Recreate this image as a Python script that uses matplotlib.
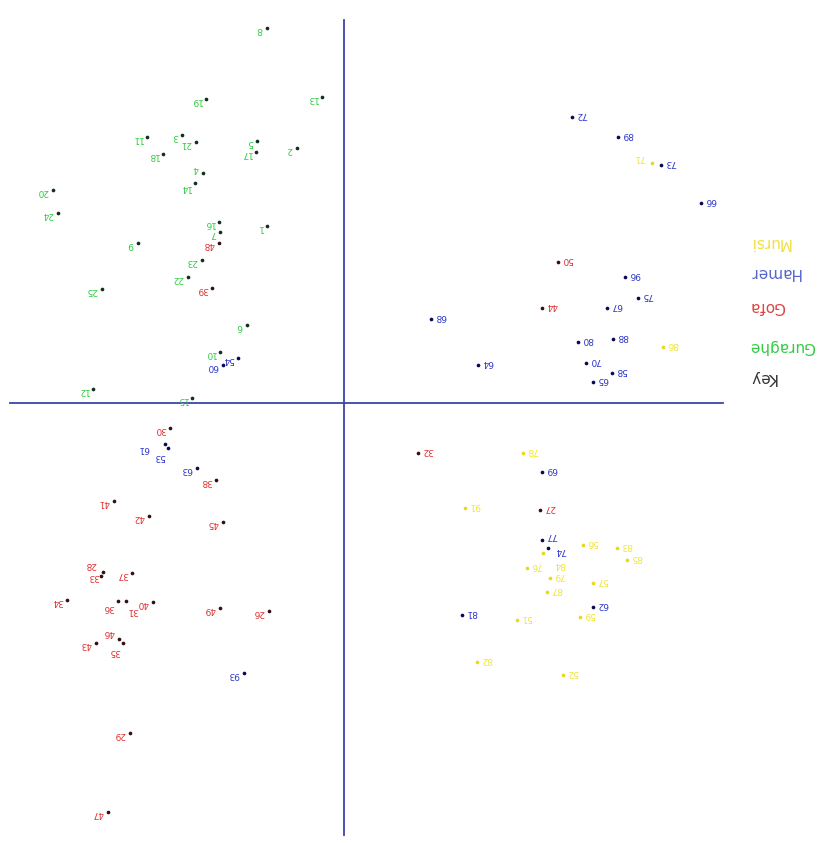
import matplotlib
matplotlib.use("Agg")
import matplotlib.pyplot as plt

# ordination scores per population (axis 1, axis 2) with sample ids
guraghe_ids = ["8", "19", "13", "11", "3", "21", "18", "5", "17", "2", "4", "14", "20",
               "24", "9", "16", "7", "1", "23", "22", "25", "6", "10", "12", "15"]
guraghe_x = [-0.77, -1.38, -0.22, -1.97, -1.62, -1.48, -1.81, -0.87, -0.88, -0.47, -1.41, -1.49, -2.91,
             -2.86, -2.06, -1.25, -1.24, -0.77, -1.42, -1.56, -2.42, -0.97, -1.24, -2.51, -1.52]
guraghe_y = [3.75, 3.04, 3.06, 2.66, 2.68, 2.61, 2.49, 2.62, 2.51, 2.55, 2.30, 2.20, 2.13,
             1.90, 1.60, 1.81, 1.71, 1.77, 1.43, 1.26, 1.14, 0.78, 0.51, 0.14, 0.05]

gofa_ids = ["48", "39", "30", "38", "41", "42", "45", "33", "28", "37", "34", "36", "31", "40",
            "49", "26", "43", "46", "35", "29", "47", "50", "44", "32", "27"]
gofa_x = [-1.25, -1.32, -1.74, -1.28, -2.30, -1.95, -1.21, -2.41, -2.43, -2.12, -2.77, -2.26, -2.18, -1.91,
          -1.24, -0.75, -2.48, -2.25, -2.21, -2.14, -2.36, 2.14, 1.98, 0.74, 1.96]
gofa_y = [1.60, 1.15, -0.25, -0.77, -0.98, -1.13, -1.19, -1.69, -1.73, -1.70, -1.97, -1.98, -1.98, -1.99,
          -2.05, -2.08, -2.40, -2.36, -2.40, -3.30, -4.09, 1.41, 0.95, -0.50, -1.07]

hamer_ids = ["60", "54", "61", "53", "63", "93", "72", "89", "73", "66", "96", "75", "67",
             "68", "80", "88", "70", "64", "65", "58", "69", "77", "74", "62", "81"]
hamer_x = [-1.21, -1.06, -1.79, -1.76, -1.47, -1.00, 2.28, 2.74, 3.17, 3.57, 2.81, 2.94, 2.63,
           0.87, 2.34, 2.69, 2.42, 1.34, 2.49, 2.68, 1.98, 1.98, 2.04, 2.49, 1.18]
hamer_y = [0.38, 0.45, -0.41, -0.45, -0.65, -2.70, 2.86, 2.66, 2.38, 2.00, 1.26, 1.05, 0.95,
           0.84, 0.61, 0.64, 0.40, 0.38, 0.21, 0.30, -0.69, -1.37, -1.45, -2.04, -2.12]

mursi_ids = ["71", "86", "78", "91", "84", "56", "83", "85", "76", "79", "87", "57",
             "51", "59", "82", "52"]
mursi_x = [3.08, 3.19, 1.79, 1.21, 1.99, 2.39, 2.73, 2.83, 1.83, 2.06, 2.03, 2.49,
           1.73, 2.36, 1.33, 2.19]
mursi_y = [2.40, 0.56, -0.50, -1.05, -1.50, -1.42, -1.45, -1.57, -1.65, -1.75, -1.89, -1.80,
           -2.17, -2.14, -2.59, -2.72]

key_labels = ["Mursi", "Hamer", "Gofa", "Guraghe", "Key"]
key_y = [1.60, 1.31, 0.96, 0.56, 0.25]

groups = [
    (guraghe_ids, guraghe_x, guraghe_y, "#2ecc40", "#10301a"),
    (gofa_ids, gofa_x, gofa_y, "#e03030", "#301010"),
    (hamer_ids, hamer_x, hamer_y, "#2b35c8", "#0a0a50"),
    (mursi_ids, mursi_x, mursi_y, "#f2e533", "#e8d820"),
]
key_colors = ["#f2e040", "#5566cc", "#dd4444", "#33cc44", "#333333"]

# hand nudges for ids sitting on top of each other
nudge = {
    "28": (-3, 8), "33": (-3, -3), "61": (-11, -3), "53": (-2, -6),
    "46": (-3, 5), "35": (-2, -6), "31": (9, -7), "36": (-3, -5),
    "77": (3, 3), "74": (5, -2), "84": (8, -8), "71": (-13, 4),
    "4": (-3, 3), "14": (-3, -3),
}

fig = plt.figure(figsize=(8.34, 8.43), dpi=100)
ax = fig.add_axes([0, 0, 1, 1])
ax.set_xlim(-3.44, 4.90)
ax.set_ylim(-4.40, 4.03)
ax.axis("off")

# cross through the origin
line_col = "#3a45a8"
ax.plot([-3.34, 3.79], [0, 0], color=line_col, lw=1.3)
ax.plot([0, 0], [-4.32, 3.83], color=line_col, lw=1.3)

for ids, xs, ys, col, dot_col in groups:
    ax.scatter(xs, ys, s=7, color=dot_col, zorder=3, linewidths=0)
    for lab, x, y in zip(ids, xs, ys):
        if x < 0:
            off = nudge.get(lab, (-3, -1))
            ax.annotate(lab, (x, y), xytext=off, textcoords="offset points",
                        ha="right", va="center", rotation=180, fontsize=6.5, color=col)
        else:
            off = nudge.get(lab, (3, 2))
            ax.annotate(lab, (x, y), xytext=off, textcoords="offset points",
                        ha="left", va="center", rotation=180, fontsize=6.5, color=col)

for lab, y, col in zip(key_labels, key_y, key_colors):
    ax.text(4.05, y, lab, ha="left", va="center", rotation=180, fontsize=11, color=col)

fig.savefig("out.png", dpi=100)
